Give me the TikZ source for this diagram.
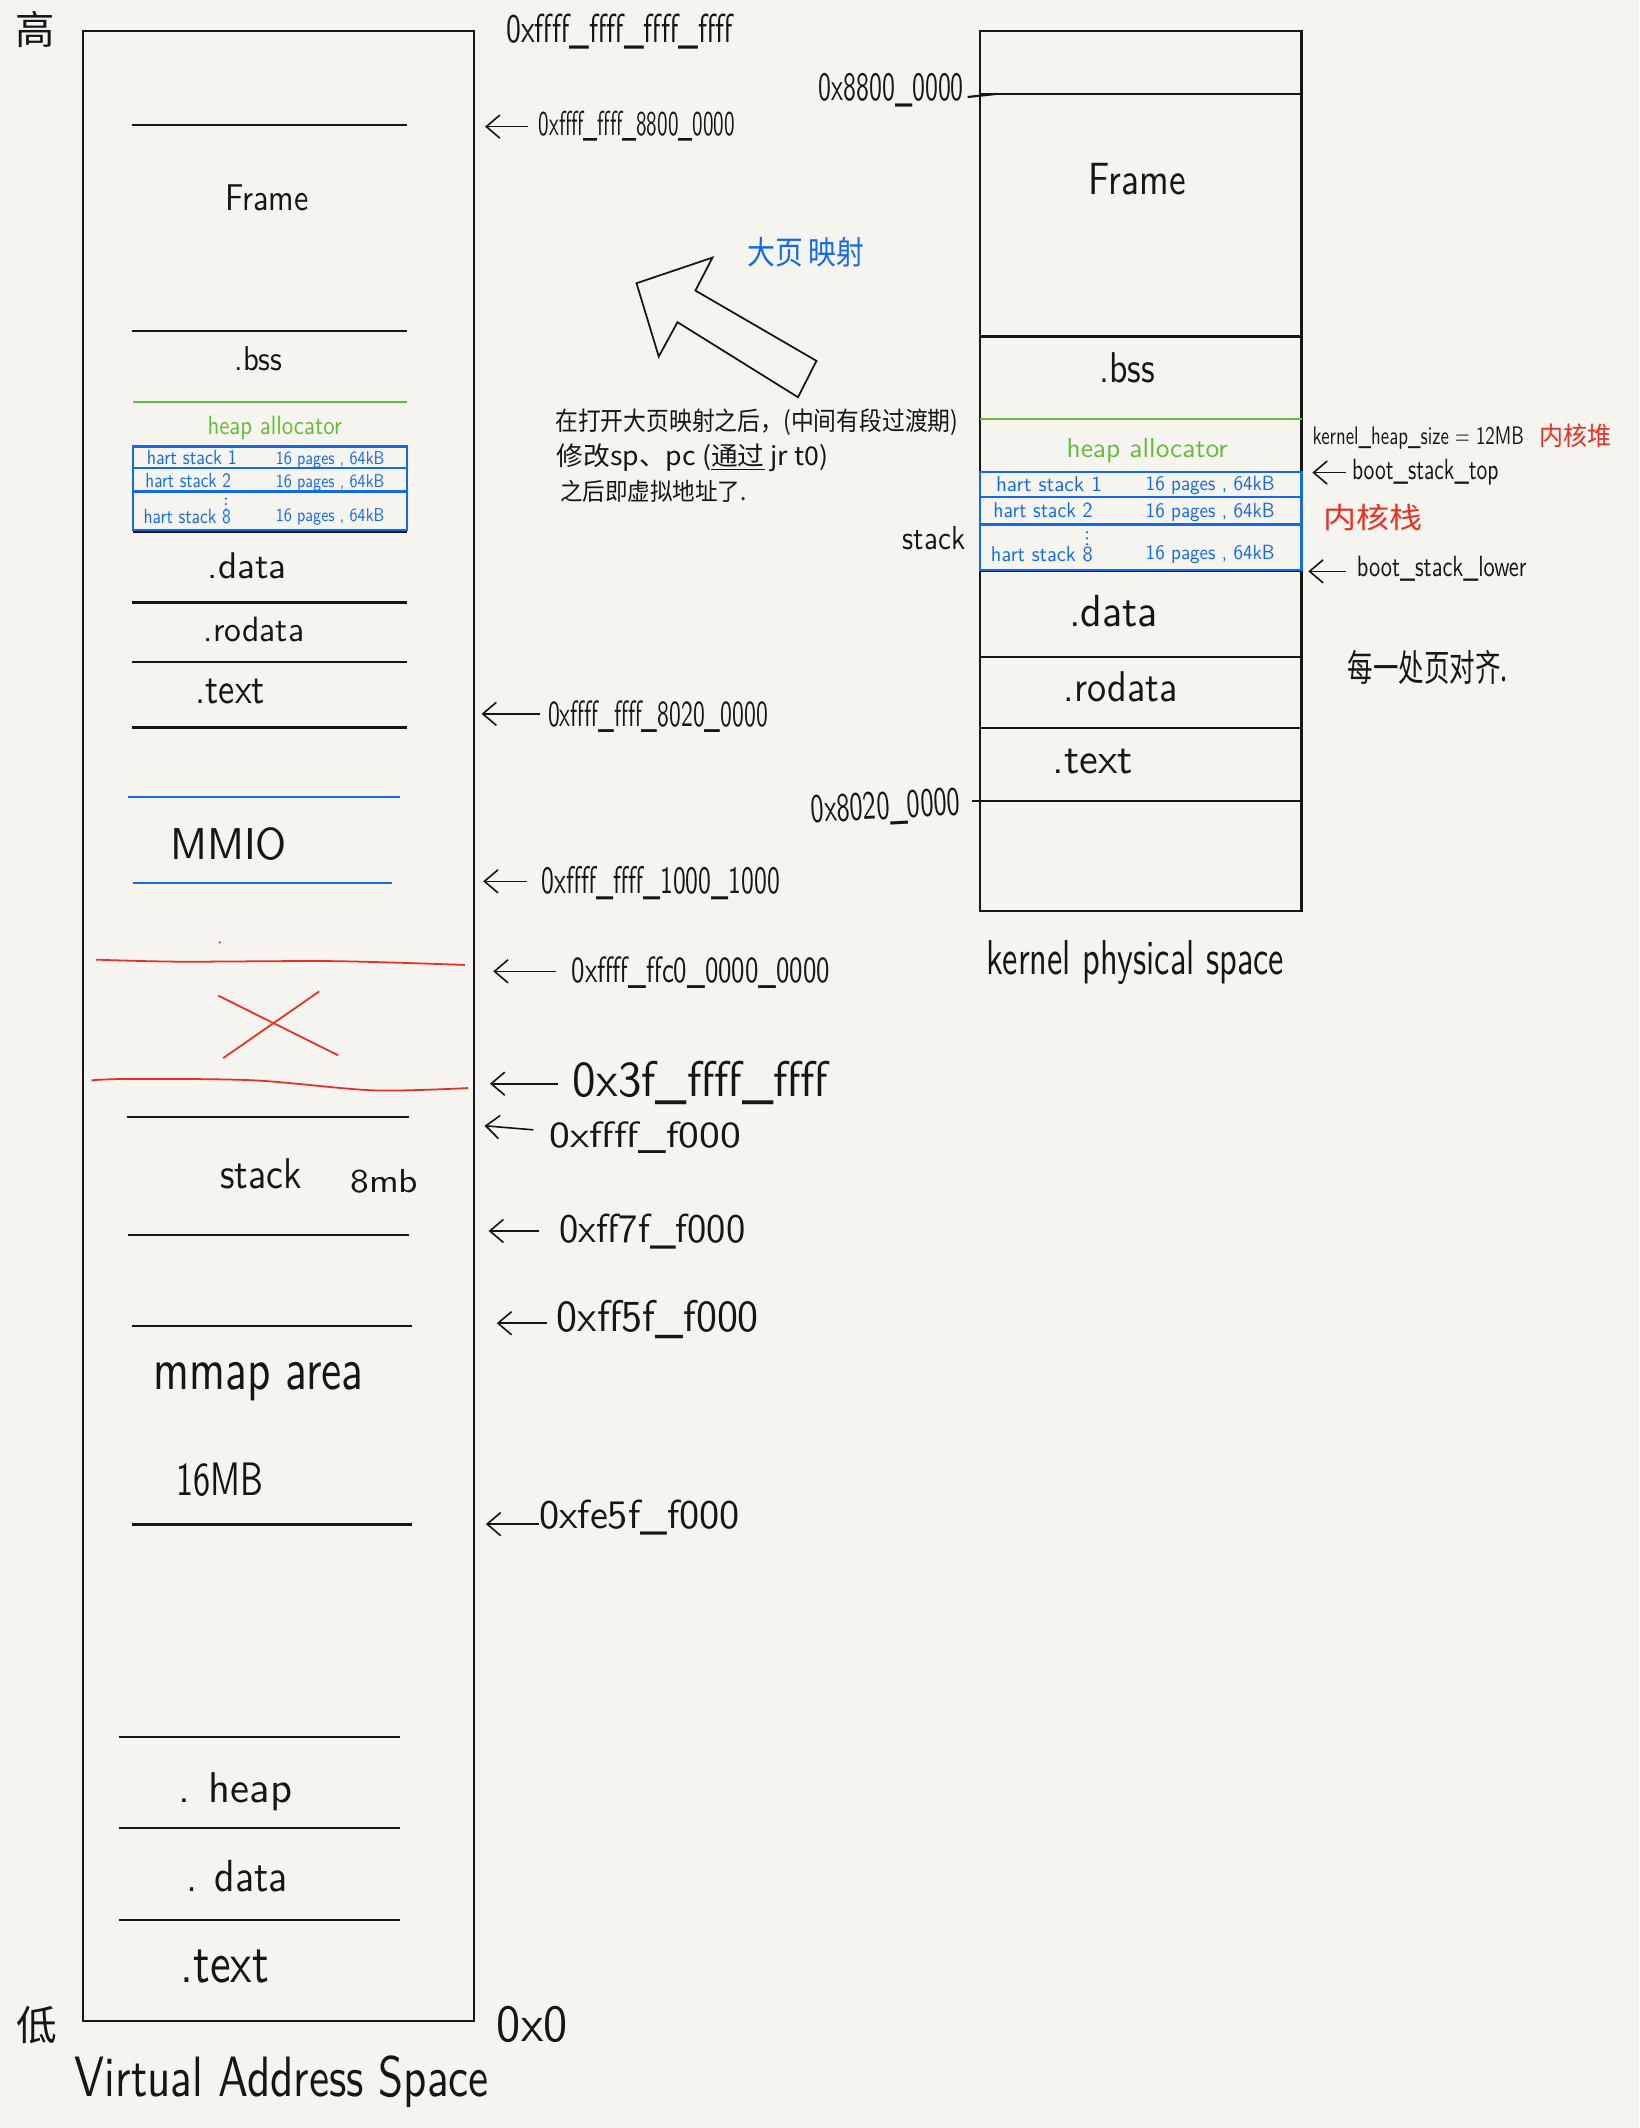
\documentclass[tikz,border=0pt]{standalone}
\usepackage{fontspec}
\usepackage{graphicx}
\newfontfamily\cjk{Noto Sans CJK SC}
\usetikzlibrary{arrows.meta}
\definecolor{paper}{RGB}{246,244,239}
\definecolor{ink}{RGB}{22,22,22}
\definecolor{myblue}{RGB}{20,105,235}
\definecolor{mygreen}{RGB}{105,185,65}
\definecolor{myred}{RGB}{232,48,38}
\newcommand\fitt[3]{\resizebox{#1pt}{#2pt}{#3}}
\newcommand\cjs[2]{{\cjk\fontsize{#1}{#1}\selectfont #2}}
\begin{document}
\begin{tikzpicture}[x=1pt,y=-1pt,
  lbl/.style={inner sep=0pt, anchor=base west, font=\sffamily, text=ink},
  cjc/.style={inner sep=0pt, anchor=center, text=ink},
  cjb/.style={inner sep=0pt, anchor=base west, text=ink},
  boxl/.style={draw=ink, line width=1.6pt},
  sec/.style={draw=ink, line width=1.6pt},
  bluel/.style={draw=myblue, line width=1.6pt},
  greenl/.style={draw=mygreen, line width=1.6pt},
  redl/.style={draw=myred, line width=1.3pt},
  arrw/.style={draw=ink, line width=1.2pt, -{Straight Barb[length=10pt,width=17pt]}}]
\useasboundingbox (0,0) rectangle (1208,1568);
\fill[paper] (0,0) rectangle (1208,1568);

% ---------- left box (virtual address space) ----------
\draw[boxl] (61,23) rectangle (349,1489);
\draw[sec] (97,92) -- (300,92);
\draw[sec] (97,243.8) -- (300,243.8);
\draw[greenl] (97.7,296) -- (300,296);
\draw[sec] (98,391.6) -- (300,391.6);
\draw[bluel] (98.2,329) rectangle (300,390.4);
\draw[bluel] (98.2,345) -- (300,345);
\draw[bluel] (98.2,362.2) -- (300,362.2);
\draw[sec] (97,444) -- (300,444);
\draw[sec] (97,488) -- (300,488);
\draw[sec] (97,536) -- (300,536);
\draw[bluel] (94.5,587.3) -- (294.6,587.3);
\draw[bluel] (98.2,650.7) -- (288.5,650.7);
\fill[myred] (162,694.4) circle (0.9);
\draw[redl] plot[smooth] coordinates {(70.7,707.1) (132.6,708.6) (245.5,708.2) (342.5,711)};
\draw[redl] (160.8,733.6) -- (249.2,777.6);
\draw[redl] (164.5,779.6) -- (235.2,730.5);
\draw[redl] plot[smooth] coordinates {(67.5,796) (95.8,795) (186.6,796) (275,803.4) (345,801.7)};
\draw[sec] (93.3,823) -- (301.5,823);
\draw[sec] (94,909.7) -- (301,909.7);
\draw[sec] (97.3,976.8) -- (303.5,976.8);
\draw[sec] (97.3,1123.3) -- (303.5,1123.3);
\draw[sec] (88,1280) -- (295,1280);
\draw[sec] (88,1347) -- (295,1347);
\draw[sec] (88,1415) -- (295,1415);

\node[lbl] (frameL) at (165.6,155.2) {\fitt{61.7}{19}{Frame}};
\node[lbl] (bssL) at (172.6,273) {\fitt{35.4}{17.6}{.bss}};
\node[lbl, text=mygreen] (heapL) at (152.7,320.4) {\fitt{99}{13.5}{heap allocator}};
\node[lbl, text=myblue] (hs1L) at (108,342.3) {\fitt{66.3}{10.5}{hart stack 1}};
\node[lbl, text=myblue] (hp1L) at (203,342) {\fitt{80}{9.5}{16 pages , 64kB}};
\node[lbl, text=myblue] (hs2L) at (107,359.5) {\fitt{63}{10.5}{hart stack 2}};
\node[lbl, text=myblue] (hp2L) at (203,359) {\fitt{80}{9.5}{16 pages , 64kB}};
\foreach \yy in {367.5,371.4,375.3} \fill[myblue] (166.5,\yy) circle (0.9);
\node[lbl, text=myblue] (hs8L) at (105.6,386) {\fitt{64.4}{10.5}{hart stack 8}};
\node[lbl, text=myblue] (hp8L) at (203,384) {\fitt{80}{9.5}{16 pages , 64kB}};
\node[lbl] (dataL) at (153,426) {\fitt{58}{19}{.data}};
\node[lbl] (rodataL) at (150,473) {\fitt{74}{18}{.rodata}};
\node[lbl] (textL) at (144,518) {\fitt{51}{18}{.text}};
\node[lbl] (mmioL) at (125.2,633.5) {\fitt{86}{23.5}{MMIO}};
\node[lbl] (stackL) at (162,876) {\fitt{60}{22}{stack}};
\node[lbl] (mbL) at (258,879) {\fitt{50}{17}{8mb}};
\node[lbl] (mmapL) at (112.9,1024) {\fitt{154.6}{20}{mmap area}};
\node[lbl] (sixteenL) at (130,1102) {\fitt{64}{24}{16MB}};
\node[lbl] (heapU) at (131,1328) {\fitt{84}{22}{. heap}};
\node[lbl] (dataU) at (137,1394) {\fitt{75}{23}{. data}};
\node[lbl] (textU) at (133,1461) {\fitt{65}{24}{.text}};

\node[cjc] (gao) at (26,22) {\cjs{29}{高}};
\node[cjc] (di) at (27,1492) {\cjs{30}{低}};
\node[lbl] (vas) at (55,1545) {\fitt{305}{30}{Virtual Address Space}};
\node[lbl] (zero) at (366,1504) {\fitt{52}{26}{0x0}};

% ---------- address labels ----------
\node[lbl] (topAddr) at (372.9,31.5) {\fitt{167}{21}{0xffff\_ffff\_ffff\_ffff}};
\node[lbl] (a8800) at (396.8,100) {\fitt{144.5}{18}{0xffff\_ffff\_8800\_0000}};
\node[lbl] (a8020) at (403.7,535) {\fitt{162}{19}{0xffff\_ffff\_8020\_0000}};
\node[lbl] (a1000) at (399,658) {\fitt{175.5}{20}{0xffff\_ffff\_1000\_1000}};
\node[lbl] (affc0) at (421,724) {\fitt{190.4}{19}{0xffff\_ffc0\_0000\_0000}};
\node[lbl] (a3f) at (422,807.6) {\fitt{188}{26}{0x3f\_ffff\_ffff}};
\node[lbl] (af000) at (405,845.6) {\fitt{141}{19}{0xffff\_f000}};
\node[lbl] (aff7f) at (412,915.5) {\fitt{137}{21}{0xff7f\_f000}};
\node[lbl] (aff5f) at (410,981) {\fitt{149}{23}{0xff5f\_f000}};
\node[lbl] (afe5f) at (397,1126) {\fitt{148}{21}{0xfe5f\_f000}};

\coordinate (t1) at (389,93.3);   \coordinate (h1) at (357.4,93.3);
\coordinate (t2) at (397.8,526);  \coordinate (h2) at (354.8,526);
\coordinate (t3) at (388,649.4);  \coordinate (h3) at (356,649.4);
\coordinate (t4) at (410,715.7);  \coordinate (h4) at (363.4,715.7);
\coordinate (t5) at (411,798.5);  \coordinate (h5) at (361,798.5);
\coordinate (t6) at (393,832.5);  \coordinate (h6) at (357,829.5);
\coordinate (t7) at (397,907);    \coordinate (h7) at (360,907);
\coordinate (t8) at (403,975);    \coordinate (h8) at (366,975);
\coordinate (t9) at (397,1123);   \coordinate (h9) at (358,1123);
\foreach \i in {1,...,9} \draw[arrw] (t\i) -- (h\i);

% ---------- big arrow and notes ----------
\draw[ink, line width=1.3pt, line join=miter] (469,208.7) -- (525,189.8) -- (512.4,214.1) -- (601.6,265.9) -- (588,292.7) -- (499.2,237.4) -- (485.4,262.7) -- cycle;
\node[cjc, text=myblue] (dayeys) at (594,186) {\resizebox{86pt}{20pt}{\cjs{20}{大页\hspace{4pt}映射}}};
\node[cjb] (note1) at (409,317) {\resizebox{297pt}{16pt}{\cjs{17}{在打开大页映射之后，(中间有段过渡期)}}};
\node[cjb] (note2) at (410,343) {\resizebox{200pt}{16pt}{\cjs{17}{修改sp、pc (\underline{通过} jr t0)}}};
\node[cjb] (note3) at (412.5,368.5) {\resizebox{137.5pt}{15pt}{\cjs{17}{之后即虚拟地址了.}}};

% ---------- right box (kernel physical space) ----------
\draw[boxl] (722,23) rectangle (959,671.5);
\draw[sec] (722,69.2) -- (959,69.2);
\draw[sec] (713,71.5) -- (734,69.2);
\draw[sec] (722,248) -- (959,248);
\draw[greenl] (722,308.6) -- (959,308.6);
\draw[sec] (722,421) -- (959,421);
\draw[bluel] (722,347.9) rectangle (959,420);
\draw[bluel] (722,366.3) -- (959,366.3);
\draw[bluel] (722,386.5) -- (959,386.5);
\draw[sec] (722,484.2) -- (959,484.2);
\draw[sec] (722,536.5) -- (959,536.5);
\draw[sec] (716.5,590) -- (959,590);

\node[lbl] (frameR) at (802,143.6) {\fitt{71.6}{23}{Frame}};
\node[lbl] (bssR) at (810,282) {\fitt{41}{22}{.bss}};
\node[lbl, text=mygreen] (heapR) at (785.7,337) {\fitt{118.8}{14}{heap allocator}};
\node[lbl, text=myblue] (hs1R) at (733.7,362) {\fitt{78}{11}{hart stack 1}};
\node[lbl, text=myblue] (hp1R) at (844,361.5) {\fitt{95}{10.5}{16 pages , 64kB}};
\node[lbl, text=myblue] (hs2R) at (731.8,381.6) {\fitt{73}{11}{hart stack 2}};
\node[lbl, text=myblue] (hp2R) at (844,381.2) {\fitt{95}{10.5}{16 pages , 64kB}};
\foreach \yy in {392.2,396.6,401} \fill[myblue] (801,\yy) circle (0.9);
\node[lbl, text=myblue] (hs8R) at (730,414) {\fitt{75}{11}{hart stack 8}};
\node[lbl, text=myblue] (hp8R) at (844,412.5) {\fitt{95}{10.5}{16 pages , 64kB}};
\node[lbl] (dataR) at (787.5,461.6) {\fitt{65.5}{23}{.data}};
\node[lbl] (rodataR) at (783.7,516.8) {\fitt{84}{22}{.rodata}};
\node[lbl] (textR) at (775.4,569.6) {\fitt{59}{18}{.text}};
\node[lbl] (a88) at (603,74) {\fitt{107}{20}{0x8800\_0000}};
\node[lbl, rotate=3] (a80) at (598,606) {\fitt{110}{20}{0x8020\_0000}};
\node[lbl] (kps) at (727,718) {\fitt{219}{25}{kernel physical space}};
\node[lbl] (stackS) at (665,405) {\fitt{46}{17}{stack}};

\node[lbl] (khs) at (967,327.8) {\fitt{155.6}{13}{kernel\_heap\_size = 12MB}};
\node[cjc, text=myred] (nhd) at (1161,321) {\resizebox{53pt}{16pt}{\cjs{18}{内核堆}}};
\node[lbl] (bst) at (996,353.6) {\fitt{108}{15}{boot\_stack\_top}};
\node[cjc, text=myred] (nhz) at (1012,381) {\resizebox{73pt}{18pt}{\cjs{18}{内核栈}}};
\node[lbl] (bsl) at (999.6,425) {\fitt{125}{15}{boot\_stack\_lower}};
\node[cjc] (align) at (1052,492) {\resizebox{118pt}{23pt}{\cjs{19}{每一处页对齐.}}};

\coordinate (t10) at (991.5,348.2); \coordinate (h10) at (967,348.2);
\coordinate (t11) at (991.5,421);   \coordinate (h11) at (964,421);
\draw[arrw] (t10) -- (h10);
\draw[arrw] (t11) -- (h11);
\end{tikzpicture}
\end{document}
